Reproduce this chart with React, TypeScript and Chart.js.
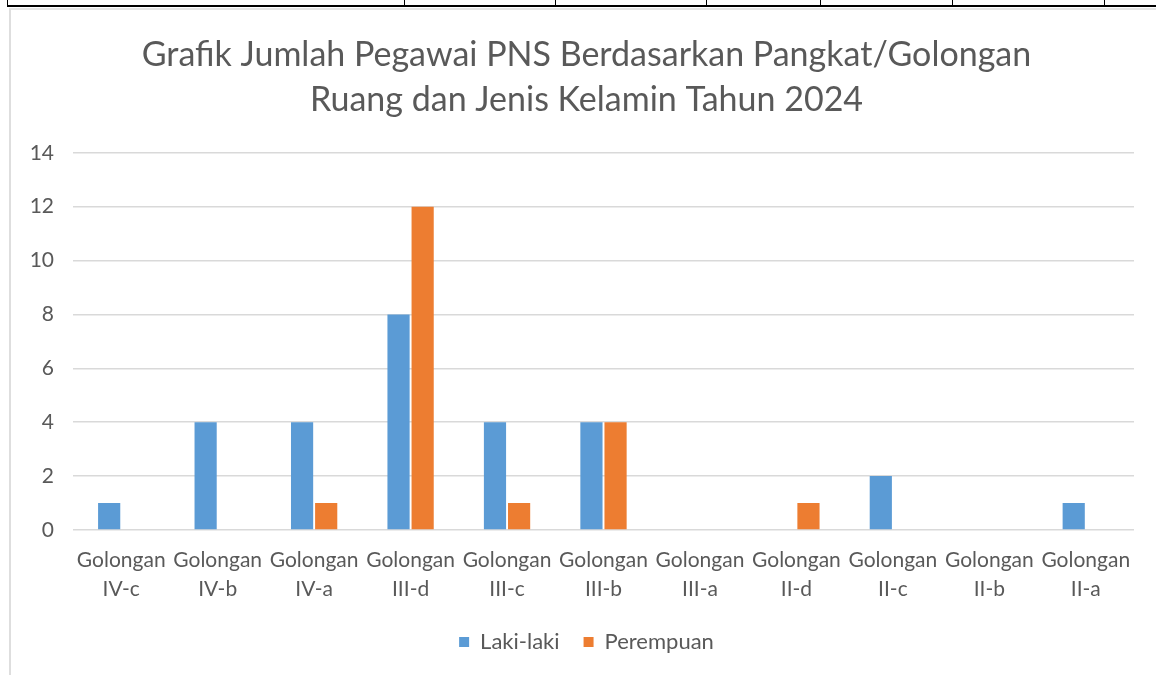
import React, { useEffect, useRef } from "react";
import { Chart, registerables } from "chart.js";

Chart.register(...registerables);

const categories: string[][] = [
  ["Golongan", "IV-c"],
  ["Golongan", "IV-b"],
  ["Golongan", "IV-a"],
  ["Golongan", "III-d"],
  ["Golongan", "III-c"],
  ["Golongan", "III-b"],
  ["Golongan", "III-a"],
  ["Golongan", "II-d"],
  ["Golongan", "II-c"],
  ["Golongan", "II-b"],
  ["Golongan", "II-a"],
];
const lakiLaki: number[] = [1, 4, 4, 8, 4, 4, 0, 0, 2, 0, 1];
const perempuan: number[] = [0, 0, 1, 12, 1, 4, 0, 1, 0, 0, 0];
const titleLines: string[] = [
  "Grafik Jumlah Pegawai PNS Berdasarkan Pangkat/Golongan",
  "Ruang dan Jenis Kelamin Tahun 2024",
];
const tableColumnLines: number[] = [7, 404, 555, 706, 820, 952, 1104];

const FONT = "Lato, 'Open Sans', sans-serif";
const TEXT = "#595959";
const GRID = "#d9d9d9";

export default function App() {
  const ref = useRef<HTMLCanvasElement | null>(null);

  useEffect(() => {
    if (!ref.current) return;
    const chart = new Chart(ref.current, {
      type: "bar",
      data: {
        labels: categories,
        datasets: [
          {
            label: "Laki-laki",
            data: lakiLaki,
            backgroundColor: "#5B9BD5",
            categoryPercentage: 0.5,
            barPercentage: 0.92,
          },
          {
            label: "Perempuan",
            data: perempuan,
            backgroundColor: "#ED7D31",
            categoryPercentage: 0.5,
            barPercentage: 0.92,
          },
        ],
      },
      options: {
        animation: false,
        responsive: false,
        maintainAspectRatio: false,
        layout: { padding: { left: 28, right: 22, top: 0, bottom: 12 } },
        plugins: {
          title: {
            display: true,
            text: titleLines,
            color: TEXT,
            font: { family: FONT, size: 34, weight: "normal", lineHeight: 1.32 },
            padding: { top: 22.5, bottom: 30.5 },
          },
          legend: {
            display: true,
            position: "bottom",
            labels: {
              color: TEXT,
              font: { family: FONT, size: 22 },
              boxWidth: 10,
              boxHeight: 10,
              padding: 24,
            },
          },
          tooltip: { enabled: false },
        },
        scales: {
          x: {
            grid: { display: false, drawTicks: false },
            border: { display: false },
            ticks: {
              color: TEXT,
              font: { family: FONT, size: 21, lineHeight: 1.38 },
              padding: 15.5,
              autoSkip: false,
              maxRotation: 0,
              minRotation: 0,
            },
            afterFit: (scale: any) => {
              scale.height = 77;
            },
          },
          y: {
            min: 0,
            max: 14,
            ticks: {
              stepSize: 2,
              color: TEXT,
              font: { family: FONT, size: 21 },
              padding: 19,
            },
            grid: { color: GRID, lineWidth: 1.5, drawTicks: false },
            border: { display: false },
            afterFit: (scale: any) => {
              scale.width = 34;
              scale._computeLabelArea = () => undefined;
            },
          },
        },
      },
    });
    return () => chart.destroy();
  }, []);

  return (
    <div
      style={{
        position: "fixed",
        left: 0,
        top: 0,
        width: 1156,
        height: 675,
        background: "#ffffff",
        overflow: "hidden",
      }}
    >
      <div
        style={{
          position: "absolute",
          left: 7,
          top: 5,
          width: 1149,
          height: 2,
          background: "#000",
        }}
      />
      {tableColumnLines.map((x) => (
        <div
          key={x}
          style={{
            position: "absolute",
            left: x,
            top: 0,
            width: 1,
            height: 7,
            background: "#000",
          }}
        />
      ))}
      <div
        style={{
          position: "absolute",
          left: 9,
          top: 8,
          width: 1147,
          height: 667,
          borderLeft: "2px solid #dedede",
          borderTop: "2px solid #e6e6e6",
          boxSizing: "border-box",
        }}
      />
      <canvas
        ref={ref}
        width={1145}
        height={665}
        style={{ position: "absolute", left: 11, top: 10, width: 1145, height: 665 }}
      />
    </div>
  );
}
